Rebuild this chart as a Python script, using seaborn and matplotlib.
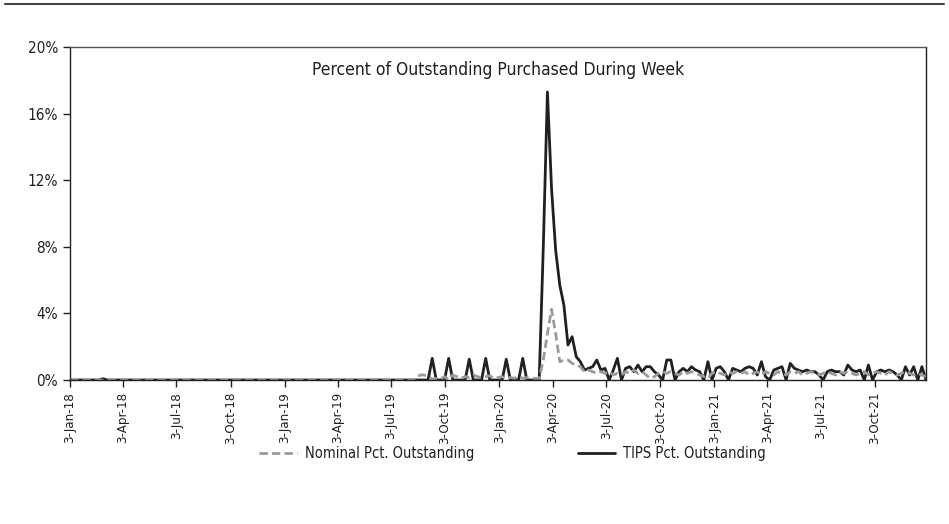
"""
Weekly Fed purchases as percent of outstanding: nominal vs TIPS.
"""

import pandas as pd
import matplotlib.pyplot as plt
import matplotlib.dates as mdates
from matplotlib.lines import Line2D
import seaborn as sns

# weekly observations, first one on 3-Jan-18 (13 weeks per row)
start_date = "2018-01-03"

nominal_pct = [
    0, 0, 0, 0, 0, 0, 0, 0, 0, 0, 0, 0, 0,
    0, 0, 0, 0, 0, 0, 0, 0, 0, 0, 0, 0, 0,
    0, 0, 0, 0, 0, 0, 0, 0, 0, 0, 0, 0, 0,
    0, 0, 0, 0, 0, 0, 0, 0, 0, 0, 0, 0, 0,
    0, 0, 0, 0, 0, 0, 0, 0, 0, 0, 0, 0, 0,
    0, 0, 0, 0, 0, 0, 0, 0, 0, 0, 0, 0, 0,
    0, 0, 0, 0, 0, 0, 0, 0.3, 0.3, 0.2, 0.05, 0.1, 0.05,
    0.2, 0.0, 0.3, 0.2, 0.1, 0.2, 0.15, 0.3, 0.2, 0.15, 0.2, 0.25, 0.1,
    0.15, 0.2, 0.1, 0.15, 0.1, 0.2, 0.1, 0.15, 0.1, 0.1, 0.1, 1.2, 2.8,
    4.25, 2.8, 1.1, 1.2, 1.2, 1.0, 0.9, 0.8, 0.5, 0.6, 0.5, 0.4, 0.5,
    0.4, 0.5, 0.3, 0.4, 0.3, 0.5, 0.4, 0.6, 0.4, 0.5, 0.3, 0.1, 0.2,
    0.4, 0.5, 0.4, 0.5, 0.4, 0.3, 0.5, 0.4, 0.5, 0.4, 0.3, 0.2, 0.1,
    0.4, 0.5, 0.4, 0.3, 0.5, 0.4, 0.5, 0.4, 0.5, 0.3, 0.4, 0.5, 0.3,
    0.5, 0.4, 0.3, 0.5, 0.4, 0.3, 0.5, 0.4, 0.5, 0.3, 0.4, 0.5, 0.4,
    0.3, 0.4, 0.5, 0.4, 0.3, 0.5, 0.4, 0.5, 0.4, 0.3, 0.4, 0.5, 0.3,
    0.4, 0.5, 0.4, 0.3, 0.5, 0.4, 0.3, 0.4, 0.5, 0.4, 0.3, 0.4, 0.3,
    0.2,
]

tips_pct = [
    0, 0, 0, 0, 0, 0, 0, 0, 0.08, 0, 0, 0, 0,
    0, 0, 0, 0, 0, 0, 0, 0, 0, 0, 0, 0, 0,
    0, 0, 0, 0, 0, 0, 0, 0, 0, 0, 0, 0, 0,
    0, 0, 0, 0, 0, 0, 0, 0, 0, 0, 0, 0, 0,
    0, 0, 0, 0, 0, 0, 0, 0, 0, 0, 0, 0, 0,
    0, 0, 0, 0, 0, 0, 0, 0, 0, 0, 0, 0, 0,
    0, 0, 0, 0, 0, 0, 0, 0, 0, 0, 1.3, 0, 0,
    0, 1.3, 0, 0, 0, 0, 1.25, 0, 0, 0, 1.3, 0, 0,
    0, 0, 1.25, 0, 0, 0, 1.3, 0, 0, 0, 0, 8.0, 17.3,
    11.5, 7.8, 5.7, 4.5, 2.1, 2.6, 1.4, 1.1, 0.6, 0.7, 0.8, 1.2, 0.6,
    0.7, 0.0, 0.6, 1.3, 0.0, 0.7, 0.8, 0.5, 0.9, 0.5, 0.8, 0.8, 0.5,
    0.3, 0.0, 1.2, 1.2, 0.0, 0.5, 0.7, 0.5, 0.8, 0.6, 0.5, 0.0, 1.1,
    0.0, 0.7, 0.8, 0.5, 0.0, 0.7, 0.6, 0.5, 0.7, 0.8, 0.7, 0.3, 1.1,
    0.2, 0.0, 0.6, 0.7, 0.8, 0.0, 1.0, 0.7, 0.6, 0.5, 0.6, 0.5, 0.5,
    0.3, 0.0, 0.5, 0.6, 0.5, 0.5, 0.3, 0.9, 0.6, 0.5, 0.6, 0.0, 0.9,
    0.0, 0.5, 0.6, 0.5, 0.6, 0.5, 0.3, 0.0, 0.8, 0.3, 0.8, 0.0, 0.8,
    0.0,
]

x_tick_dates = [
    "2018-01-03", "2018-04-03", "2018-07-03", "2018-10-03",
    "2019-01-03", "2019-04-03", "2019-07-03", "2019-10-03",
    "2020-01-03", "2020-04-03", "2020-07-03", "2020-10-03",
    "2021-01-03", "2021-04-03", "2021-07-03", "2021-10-03",
]
y_ticks = [0, 4, 8, 12, 16, 20]

dates = pd.date_range(start_date, periods=len(tips_pct), freq="7D")
df = pd.DataFrame({"date": dates, "nominal": nominal_pct, "tips": tips_pct})

sns.set_style("white")
plt.rcParams["font.family"] = ["DejaVu Sans"]
plt.rcParams["font.stretch"] = "condensed"
text_color = "#231f20"

fig = plt.figure(figsize=(9.49, 5.24), dpi=100)
ax = fig.add_axes([0.0738, 0.2748, 0.902, 0.6355])

sns.lineplot(data=df, x="date", y="tips", ax=ax, color="#231f20", linewidth=2.0,
             label="TIPS Pct. Outstanding", legend=False)
sns.lineplot(data=df, x="date", y="nominal", ax=ax, color="#9a9a9a", linewidth=2.0,
             linestyle=(0, (3, 1.5)), label="Nominal Pct. Outstanding", legend=False)

ax.set_xlim(dates[0], dates[-1])
ax.set_ylim(0, 20)
ax.set_xticks(pd.to_datetime(x_tick_dates))
ax.xaxis.set_major_formatter(mdates.DateFormatter("%-d-%b-%y"))
ax.set_yticks(y_ticks)
ax.set_yticklabels([f"{v}%" for v in y_ticks])
ax.tick_params(axis="x", rotation=90, length=5, width=1, direction="out",
               colors=text_color, labelsize=9.5, bottom=True)
ax.tick_params(axis="y", length=5, width=1, direction="out",
               colors=text_color, labelsize=11, left=True)
ax.set_xlabel("")
ax.set_ylabel("")
for side in ["left", "bottom", "right", "top"]:
    ax.spines[side].set_color("#231f20")
    ax.spines[side].set_linewidth(1.0)
ax.spines["top"].set_color("#555555")

ax.text(0.5, 0.93, "Percent of Outstanding Purchased During Week", transform=ax.transAxes,
        ha="center", va="center", fontsize=12.5, color=text_color)

# legend below the plot, nominal first
handles = [
    Line2D([], [], color="#9a9a9a", linewidth=2.0, linestyle=(0, (3, 1.5))),
    Line2D([], [], color="#231f20", linewidth=2.0),
]
fig.legend(handles, ["Nominal Pct. Outstanding", "TIPS Pct. Outstanding"],
           loc="center", bbox_to_anchor=(0.54, 0.135), ncol=2, frameon=False,
           handlelength=2.6, columnspacing=7.1, handletextpad=0.55,
           fontsize=10.5, labelcolor=text_color)

# thin rule across the top of the figure
fig.add_artist(Line2D([0.005, 0.995], [0.992, 0.992], transform=fig.transFigure,
                      color="#444444", linewidth=1.5))

fig.savefig("out.png", dpi=100)
